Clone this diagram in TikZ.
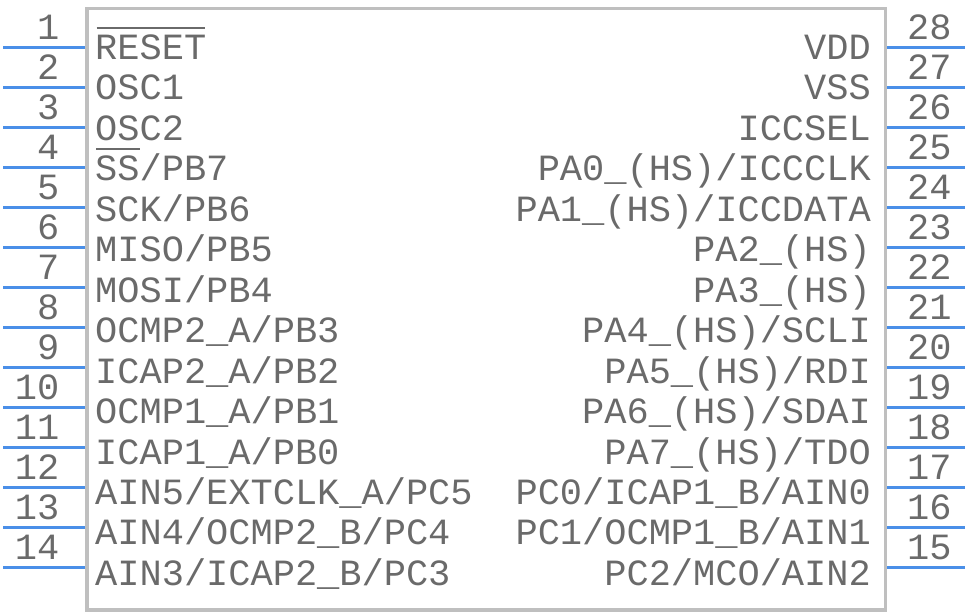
\documentclass[tikz,border=0pt]{standalone}
\usepackage{fontspec}
\newfontfamily\pinfont{Liberation Mono}
\definecolor{pinblue}{HTML}{4A8FE8}
\definecolor{txtgray}{HTML}{6A6A6A}
\definecolor{bodygray}{HTML}{BFBFBF}
\begin{document}
\begin{tikzpicture}[x=1pt,y=-1pt,
  pinline/.style={draw=pinblue,line width=3pt},
  chipbody/.style={draw=bodygray,line width=3.5pt,rectangle,inner sep=0pt,
    minimum width=798.5pt,minimum height=601pt,anchor=north west},
  lbl/.style={inner sep=0pt,text=txtgray,font=\pinfont\fontsize{37}{37}\selectfont},
  bar/.style={draw=txtgray,line width=2pt}]
\useasboundingbox (0,0) rectangle (968,612);
\node[chipbody] (chip) at (85,7) {};
% left pins
\foreach \i/\t in {1/RESET,2/OSC1,3/OSC2,4/{SS/PB7},5/{SCK/PB6},6/{MISO/PB5},7/{MOSI/PB4},
  8/{OCMP2\_A/PB3},9/{ICAP2\_A/PB2},10/{OCMP1\_A/PB1},11/{ICAP1\_A/PB0},
  12/{AIN5/EXTCLK\_A/PC5},13/{AIN4/OCMP2\_B/PC4},14/{AIN3/ICAP2\_B/PC3}}{
  \coordinate (p\i) at (3,{47.7+40*(\i-1)});
  \draw[pinline] (p\i) -- (p\i -| chip.west);
  \node[lbl,anchor=base east] (n\i) at (59.5,{39.2+40*(\i-1)}) {\i};
  \node[lbl,anchor=base west] (l\i) at (95,{59.5+40.45*(\i-1)}) {\t};
}
% right pins
\foreach \i/\t in {28/VDD,27/VSS,26/ICCSEL,25/{PA0\_(HS)/ICCCLK},24/{PA1\_(HS)/ICCDATA},
  23/{PA2\_(HS)},22/{PA3\_(HS)},21/{PA4\_(HS)/SCLI},20/{PA5\_(HS)/RDI},
  19/{PA6\_(HS)/SDAI},18/{PA7\_(HS)/TDO},17/{PC0/ICAP1\_B/AIN0},
  16/{PC1/OCMP1\_B/AIN1},15/{PC2/MCO/AIN2}}{
  \coordinate (p\i) at (965,{47.7+40*(28-\i)});
  \draw[pinline] (p\i -| chip.east) -- (p\i);
  \node[lbl,anchor=base west] (n\i) at (907,{39.2+40*(28-\i)}) {\i};
  \node[lbl,anchor=base east] (l\i) at (871,{59.5+40.45*(28-\i)}) {\t};
}
% overbars
\draw[bar] ([xshift=1.5pt,yshift=31pt]l1.base west) -- ([xshift=-1pt,yshift=31pt]l1.base east);
\draw[bar] ([xshift=1pt,yshift=32pt]l4.base west) -- ([xshift=45.4pt,yshift=32pt]l4.base west);
\end{tikzpicture}
\end{document}
